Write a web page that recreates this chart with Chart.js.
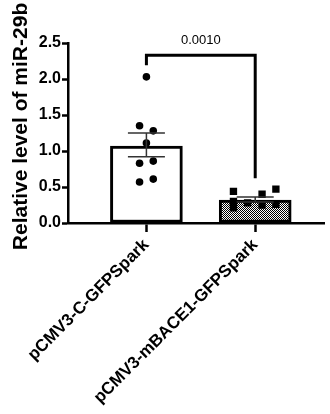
<!DOCTYPE html>
<html>
<head>
<meta charset="utf-8">
<script src="https://cdn.jsdelivr.net/npm/chart.js@4/dist/chart.umd.min.js"></script>
<style>
html,body{margin:0;padding:0;background:#fff;}
#wrap{width:330px;height:414px;position:relative;}
</style>
</head>
<body>
<div id="wrap"><canvas id="c" width="330" height="414"></canvas></div>
<script>
const categories = ['pCMV3-C-GFPSpark', 'pCMV3-mBACE1-GFPSpark'];
const means = [1.07, 0.32];
const errUpper = [1.25, 0.36];
const errLower = [0.92, 0.29];
const group1Values = [2.03, 1.35, 1.28, 1.11, 0.83, 0.86, 0.57, 0.61];
const group1Jitter = [0, -0.063, 0.063, 0, -0.063, 0.063, -0.063, 0.063];
const group2Values = [0.44, 0.30, 0.21, 0.28, 0.40, 0.25, 0.47, 0.26];
const group2Jitter = [-0.2, -0.2, -0.2, -0.07, 0.063, 0.063, 0.19, 0.19];
const yTicks = [0, 0.5, 1.0, 1.5, 2.0, 2.5];
const pValue = '0.0010';
const bracketY = 2.33, bracketLeftEnd = 2.19, bracketRightEnd = 0.62;
const yTitle = 'Relative level of miR-29b';

const FONT = '"Liberation Sans", Arial, sans-serif';

const pc = document.createElement('canvas');
pc.width = 2; pc.height = 2;
const pctx = pc.getContext('2d');
pctx.fillStyle = '#fff'; pctx.fillRect(0,0,2,2);
pctx.fillStyle = '#000'; pctx.fillRect(0,0,1,1); pctx.fillRect(1,1,1,1);
const ctx0 = document.getElementById('c').getContext('2d');
const pattern = ctx0.createPattern(pc, 'repeat');

const overlay = {
  id: 'overlay',
  afterDatasetsDraw(chart) {
    const ctx = chart.ctx, xs = chart.scales.x, ys = chart.scales.y;
    ctx.save();
    ctx.strokeStyle = '#333';
    ctx.lineWidth = 1.5;
    means.forEach((m, i) => {
      const cx = xs.getPixelForValue(i + 1);
      const yu = ys.getPixelForValue(errUpper[i]);
      const yl = ys.getPixelForValue(errLower[i]);
      ctx.beginPath();
      ctx.moveTo(cx, yu); ctx.lineTo(cx, yl);
      ctx.moveTo(cx - 18.5, yu); ctx.lineTo(cx + 18.5, yu);
      ctx.moveTo(cx - 18.5, yl); ctx.lineTo(cx + 18.5, yl);
      ctx.stroke();
    });
    const x1 = xs.getPixelForValue(1), x2 = xs.getPixelForValue(2);
    const yb = ys.getPixelForValue(bracketY);
    ctx.strokeStyle = '#000';
    ctx.lineWidth = 3;
    ctx.lineJoin = 'miter';
    ctx.beginPath();
    ctx.moveTo(x1, ys.getPixelForValue(bracketLeftEnd));
    ctx.lineTo(x1, yb);
    ctx.lineTo(x2, yb);
    ctx.lineTo(x2, ys.getPixelForValue(bracketRightEnd));
    ctx.stroke();
    ctx.fillStyle = '#000';
    ctx.font = '13px ' + FONT;
    ctx.textAlign = 'center';
    ctx.textBaseline = 'alphabetic';
    ctx.fillText(pValue, (x1 + x2) / 2, yb - 11);
    // y axis title
    ctx.translate(27, 126.5);
    ctx.rotate(-Math.PI / 2);
    ctx.font = 'bold 21px ' + FONT;
    ctx.textAlign = 'center';
    ctx.textBaseline = 'alphabetic';
    ctx.fillText(yTitle, 0, 0);
    ctx.restore();
  }
};

new Chart(ctx0, {
  data: {
    datasets: [
      {
        type: 'scatter',
        order: 1,
        data: group1Values.map((v, i) => ({x: 1 + group1Jitter[i], y: v})),
        pointStyle: 'circle',
        pointRadius: 3.8,
        backgroundColor: '#000',
        borderColor: '#000',
        borderWidth: 0
      },
      {
        type: 'scatter',
        order: 1,
        data: group2Values.map((v, i) => ({x: 2 + group2Jitter[i], y: v})),
        pointStyle: 'rect',
        pointRadius: 5.2,
        backgroundColor: '#000',
        borderColor: '#000',
        borderWidth: 0
      },
      {
        type: 'bar',
        order: 2,
        data: means.map((m, i) => ({x: i + 1, y: m})),
        backgroundColor: ['#fff', pattern],
        borderColor: '#000',
        borderWidth: 3,
        borderSkipped: false,
        barThickness: 72
      }
    ]
  },
  options: {
    responsive: false,
    animation: false,
    events: [],
    layout: {padding: {top: 43, right: 0, left: 0, bottom: 0}},
    plugins: {legend: {display: false}, tooltip: {enabled: false}},
    scales: {
      x: {
        type: 'linear',
        offset: false,
        min: 0.2793,
        max: 2.6396,
        afterBuildTicks: (s) => { s.ticks = [{value: 1}, {value: 2}]; },
        afterFit: (s) => { s.height = 191; },
        ticks: {
          autoSkip: false,
          maxRotation: 45,
          minRotation: 45,
          padding: 3,
          color: '#000',
          font: {family: FONT, size: 17, weight: 'bold'},
          callback: (v) => categories[Math.round(v) - 1] || ''
        },
        grid: {display: true, drawOnChartArea: false, offset: false, tickLength: 9, tickWidth: 2.5, tickColor: '#000'},
        border: {display: true, color: '#000', width: 2.5}
      },
      y: {
        type: 'linear',
        min: 0,
        max: 2.5,
        afterBuildTicks: (s) => { s.ticks = yTicks.map(v => ({value: v})); },
        afterFit: (s) => { s.width = 68; },
        ticks: {
          padding: 1,
          color: '#000',
          font: {family: FONT, size: 16, weight: 'bold'},
          callback: (v) => Number(v).toFixed(1)
        },
        grid: {display: true, drawOnChartArea: false, tickLength: 6, tickWidth: 2.5, tickColor: '#000'},
        border: {display: true, color: '#000', width: 2.5},
        title: {display: false}
      }
    }
  },
  plugins: [overlay]
});
</script>
</body>
</html>
